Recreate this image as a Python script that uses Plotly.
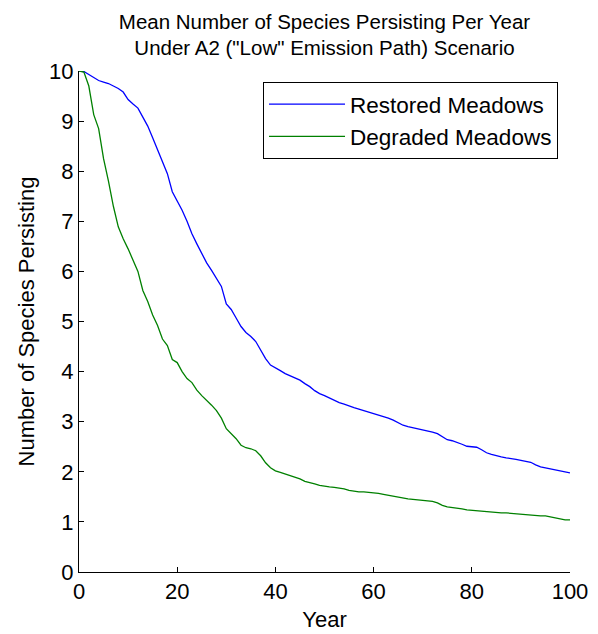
import plotly.graph_objects as go

years = list(range(0, 101))

restored = [
    10.0, 9.99, 9.93, 9.87, 9.81, 9.78, 9.75, 9.70, 9.65, 9.58,
    9.43, 9.34, 9.26, 9.08, 8.90, 8.67, 8.42, 8.17, 7.95, 7.59,
    7.42, 7.22, 7.00, 6.75, 6.55, 6.35, 6.17, 6.02, 5.85, 5.70,
    5.35, 5.24, 5.07, 4.90, 4.78, 4.70, 4.60, 4.42, 4.26, 4.13,
    4.08, 4.02, 3.96, 3.92, 3.88, 3.83, 3.76, 3.70, 3.62, 3.56,
    3.52, 3.47, 3.43, 3.38, 3.35, 3.31, 3.28, 3.25, 3.22, 3.19,
    3.17, 3.14, 3.10, 3.07, 3.03, 2.98, 2.93, 2.90, 2.88, 2.85,
    2.83, 2.81, 2.79, 2.76, 2.70, 2.64, 2.62, 2.59, 2.55, 2.51,
    2.50, 2.49, 2.44, 2.38, 2.35, 2.32, 2.30, 2.28, 2.27, 2.25,
    2.23, 2.21, 2.19, 2.14, 2.10, 2.08, 2.06, 2.04, 2.01, 1.99,
    1.98,
]

degraded = [
    10.0, 9.98, 9.70, 9.13, 8.85, 8.25, 7.80, 7.30, 6.89, 6.65,
    6.45, 6.22, 6.00, 5.62, 5.40, 5.13, 4.92, 4.65, 4.52, 4.24,
    4.18, 4.00, 3.86, 3.78, 3.63, 3.52, 3.43, 3.33, 3.22, 3.07,
    2.86, 2.76, 2.66, 2.53, 2.48, 2.46, 2.42, 2.32, 2.18, 2.08,
    2.02, 1.99, 1.96, 1.93, 1.90, 1.86, 1.81, 1.79, 1.76, 1.73,
    1.71, 1.70, 1.69, 1.68, 1.66, 1.63, 1.61, 1.60, 1.60, 1.59,
    1.59, 1.57, 1.55, 1.53, 1.51, 1.49, 1.47, 1.46, 1.45, 1.44,
    1.43, 1.42, 1.41, 1.38, 1.33, 1.30, 1.29, 1.28, 1.26, 1.24,
    1.23, 1.22, 1.22, 1.21, 1.20, 1.19, 1.18, 1.18, 1.17, 1.16,
    1.15, 1.15, 1.14, 1.13, 1.12, 1.12, 1.10, 1.08, 1.05, 1.04,
    1.04,
]

x_ticks = [0, 20, 40, 60, 80, 100]
y_ticks = list(range(0, 11))

FONT = "Liberation Sans, Arial, sans-serif"

fig = go.Figure()
fig.add_trace(go.Scatter(x=years, y=restored, mode="lines", name="Restored Meadows",
                         line=dict(color="#0000ff", width=1.3)))
fig.add_trace(go.Scatter(x=years, y=degraded, mode="lines", name="Degraded Meadows",
                         line=dict(color="#008000", width=1.3)))

fig.update_layout(
    width=598, height=634,
    margin=dict(l=79, r=28, t=71, b=62),
    paper_bgcolor="white", plot_bgcolor="white",
    font=dict(family=FONT, size=22, color="black"),
    title=dict(text="Mean Number of Species Persisting Per Year<br>Under A2 (\"Low\" Emission Path) Scenario",
               x=(79 + 570) / 2 / 598, xanchor="center", y=0.955, yanchor="top",
               font=dict(family=FONT, size=20.5, color="black")),
    showlegend=True,
    legend=dict(x=0.9756, xanchor="right", y=0.978, yanchor="top",
                bordercolor="black", borderwidth=1, bgcolor="white",
                font=dict(family=FONT, size=22.5, color="black"),
                tracegroupgap=0, itemwidth=76),
    xaxis=dict(range=[0, 100], tickvals=x_ticks, ticks="inside", ticklen=5,
               tickcolor="black", showline=True, linecolor="black", linewidth=1,
               showgrid=False, zeroline=False, mirror=False, automargin=False,
               title=dict(text="Year", standoff=8, font=dict(size=22)),
               tickfont=dict(size=22)),
    yaxis=dict(range=[0, 10], tickvals=y_ticks, ticks="inside", ticklen=5,
               tickcolor="black", showline=True, linecolor="black", linewidth=1,
               showgrid=False, zeroline=False, mirror=False, automargin=False,
               title=dict(text="Number of Species Persisting", standoff=8, font=dict(size=22)),
               tickfont=dict(size=22)),
)

fig.write_html("out.html", config={"displayModeBar": False},
               post_script="document.body.style.margin='0';")
